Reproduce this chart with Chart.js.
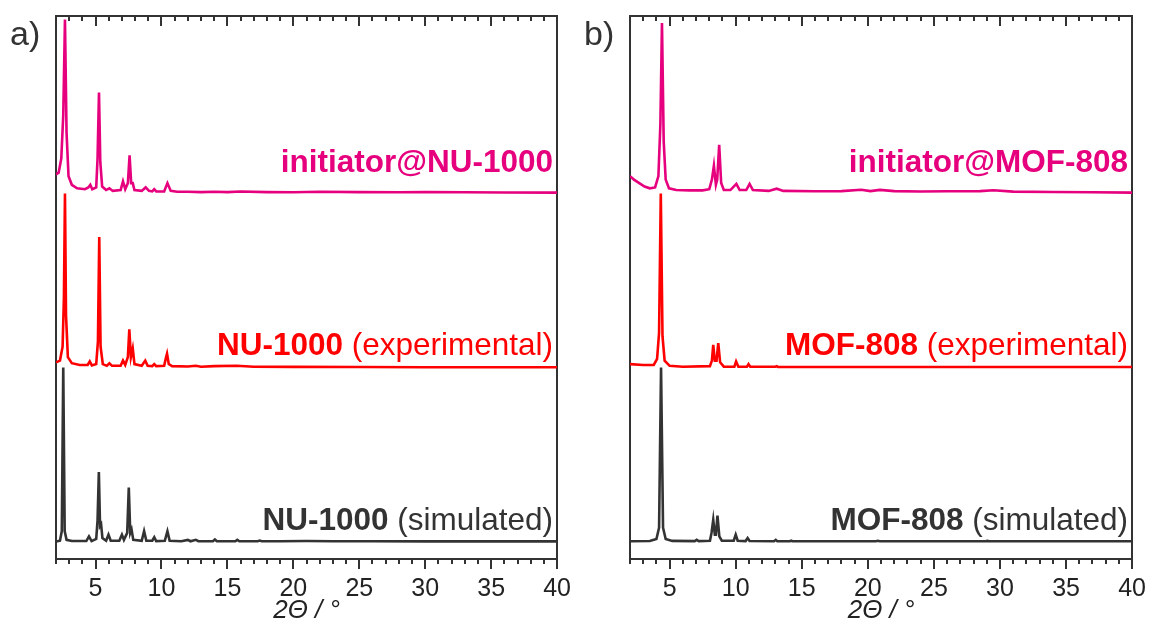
<!DOCTYPE html>
<html>
<head>
<meta charset="utf-8">
<title>PXRD NU-1000 / MOF-808</title>
<script src="https://cdn.jsdelivr.net/npm/chart.js@4.4.1/dist/chart.umd.min.js"></script>
<style>
  body { margin: 0; background: #fff; }
  #contenedor { position: relative; width: 1151px; height: 635px; background: #fff; }
  canvas { position: absolute; top: 0; }
</style>
</head>
<body>
<div id="contenedor">
  <canvas id="grafico-a" width="576" height="635" style="left:0px"></canvas>
  <canvas id="grafico-b" width="576" height="635" style="left:575px"></canvas>
</div>
<script>
// Difractogramas: pares [2theta, intensidad relativa %]
const nuSimulado = [[2.0,0],[2.3,0.5],[2.44,6],[2.55,100],[2.66,6],[2.8,1],[3.2,0.3],[4.3,0.3],[4.5,3],[4.7,0.3],[5.05,1.5],[5.15,12],[5.25,40],[5.34,9],[5.42,10],[5.52,2],[5.8,0.5],[5.98,4],[6.15,0.5],[6.8,0.5],[7.0,4],[7.15,1],[7.4,5],[7.52,31],[7.63,5],[7.73,7],[7.86,1],[8.5,0.5],[8.68,6],[8.85,0.5],[9.3,0.5],[9.45,2.5],[9.6,0.3],[10.25,0.5],[10.45,6],[10.62,0.5],[11.5,0.2],[12.0,1],[12.2,0.2],[12.6,1],[12.8,0.2],[13.9,0.2],[14.05,1.2],[14.2,0.2],[15.6,0.2],[15.75,1],[15.9,0.2],[17.3,0.2],[17.45,0.6],[17.6,0.2],[19,0.2],[21,0.3],[23,0.2],[26,0.2],[30,0.1],[35,0.1],[40,0.1]];
const nuExperimental = [[2.0,3],[2.3,4],[2.5,12],[2.6,40],[2.68,100],[2.76,30],[2.9,6],[3.2,2.5],[3.8,1.5],[4.4,1.5],[4.56,3.5],[4.72,1.2],[5.05,2],[5.18,15],[5.28,75],[5.38,12],[5.55,2],[5.85,1],[6.05,2.5],[6.25,1],[6.9,1],[7.08,4],[7.25,1.5],[7.45,6],[7.56,22],[7.68,6],[7.82,11],[7.95,2],[8.5,1],[8.77,4],[8.95,1],[9.3,0.8],[9.45,2],[9.6,0.8],[10.2,1],[10.35,6],[10.42,8],[10.55,2],[10.8,0.8],[12,0.6],[12.6,1],[13,0.5],[14,0.8],[15.7,1],[17,0.5],[20,0.4],[25,0.3],[30,0.2],[35,0.2],[40,0.2]];
const nuIniciador = [[2.0,11],[2.2,12],[2.4,20],[2.55,45],[2.68,100],[2.8,35],[2.95,10],[3.2,5],[3.6,3],[4.2,2.5],[4.45,3.5],[4.6,5],[4.75,2.5],[5.05,3.5],[5.15,20],[5.26,58],[5.36,18],[5.5,4],[5.8,2],[6.05,3],[6.3,1.5],[6.9,2],[7.08,7],[7.25,2.5],[7.45,6],[7.58,22],[7.7,6],[7.82,6],[7.95,2],[8.5,1.5],[8.8,3.5],[9.05,1.5],[9.3,1.2],[9.45,2.5],[9.6,1.2],[10.2,1.2],[10.45,6],[10.7,1.5],[11.2,1],[12,1],[13,0.8],[14,1],[15,0.8],[16,1.2],[18,0.8],[20,0.7],[22,1],[25,0.8],[28,0.7],[30,0.8],[33,0.7],[36,0.6],[40,0.5]];

const mofSimulado = [[2,0.2],[3.5,0.3],[4.0,1.5],[4.2,8],[4.35,100],[4.5,8],[4.7,1.5],[5.2,0.4],[6.9,0.3],[7.05,1],[7.2,0.3],[8.05,0.5],[8.17,5],[8.3,12.5],[8.42,4],[8.5,4],[8.62,15],[8.76,3],[8.95,0.5],[9.85,0.5],[10.0,4],[10.15,0.5],[10.75,0.3],[10.9,2],[11.05,0.3],[12.9,0.2],[13.03,1],[13.15,0.2],[14.1,0.2],[14.2,0.5],[14.3,0.2],[16,0.2],[20.6,0.2],[20.75,0.5],[20.9,0.2],[25,0.2],[28.9,0.2],[29.05,0.4],[29.2,0.2],[35,0.2],[40,0.2]];
const mofExperimental = [[2,2],[3.0,1.5],[3.8,1.5],[4.05,5],[4.2,20],[4.33,100],[4.46,18],[4.62,4],[5.0,1],[6,0.5],[8.05,0.8],[8.2,4],[8.3,13],[8.42,4],[8.55,4],[8.68,14],[8.82,3],[9.1,0.5],[9.9,0.5],[10.03,3.5],[10.2,0.5],[10.85,0.5],[10.97,2],[11.1,0.5],[13,0.5],[13.1,0.8],[13.2,0.4],[20,0.3],[30,0.3],[40,0.3]];
const mofIniciador = [[2,10],[2.3,8],[2.7,6],[3.1,4],[3.5,3],[3.9,3.5],[4.15,10],[4.3,40],[4.42,98],[4.55,30],[4.7,8],[4.95,3],[5.5,2],[6.5,1.8],[7.5,1.8],[8.0,2.5],[8.2,8],[8.35,16],[8.5,5],[8.6,8],[8.75,28],[8.9,6],[9.1,2],[9.6,2],[9.85,4],[10.05,5.5],[10.3,2],[10.8,2],[11.05,5.5],[11.3,2],[12.5,1.5],[13.1,2.8],[13.6,1.5],[16,1.3],[18,1.4],[19.5,2.2],[20.2,1.4],[20.9,2.1],[22,1.4],[24,1.2],[26,1.3],[28.5,1.4],[29.5,1.9],[31,1.1],[34,0.9],[37,0.7],[40,0.5]];

// desplazamiento vertical de cada curva (simulado, experimental, iniciador)
const desplazamientos = [0, 100, 200];

// marcas del eje 2theta
const ticksMayores = [5, 10, 15, 20, 25, 30, 35, 40];
const ticksMenores = [2,3,4,5,6,7,8,9,10,11,12,13,14,15,16,17,18,19,20,21,22,23,24,25,26,27,28,29,30,31,32,33,34,35,36,37,38,39,40];

const etiquetasA = [['NU-1000', ' (simulated)'], ['NU-1000', ' (experimental)'], ['initiator@NU-1000', '']];
const etiquetasB = [['MOF-808', ' (simulated)'], ['MOF-808', ' (experimental)'], ['initiator@MOF-808', '']];

const colores = ['#333333', '#ff0000', '#e6007e'];
const fuente = '"Liberation Sans", Arial, Helvetica, sans-serif';
const gris = '#333333';

// texto de cada curva (negrita + normal) y letra del panel
const textos = {
  id: 'textos',
  afterDatasetsDraw(chart, args, opts) {
    const ctx = chart.ctx;
    const escalaY = chart.scales.y;
    const derecha = chart.chartArea.right - 4;
    const subida = [12, 13, 22];
    ctx.save();
    ctx.textBaseline = 'alphabetic';
    opts.etiquetas.forEach((et, i) => {
      const fNegrita = 'bold 31.5px ' + fuente;
      const fNormal = '31.5px ' + fuente;
      ctx.font = fNormal;
      const w2 = ctx.measureText(et[1]).width;
      ctx.font = fNegrita;
      const w1 = ctx.measureText(et[0]).width;
      const py = escalaY.getPixelForValue(desplazamientos[i]) - subida[i];
      ctx.fillStyle = colores[i];
      ctx.fillText(et[0], derecha - w1 - w2, py);
      ctx.font = fNormal;
      ctx.fillText(et[1], derecha - w2, py);
    });
    ctx.font = '34px ' + fuente;
    ctx.fillStyle = gris;
    ctx.textBaseline = 'middle';
    ctx.fillText(opts.letra, chart.chartArea.left - 46, 36);
    ctx.restore();
  }
};

function ejeX(posicion, marcas, largo, borde, extra) {
  return Object.assign({
    type: 'linear',
    position: posicion,
    min: 2,
    max: 40,
    afterBuildTicks: s => { s.ticks = marcas.map(v => ({ value: v })); },
    afterFit: s => { s.height = 0; },
    ticks: { display: false, autoSkip: false },
    grid: { drawOnChartArea: false, color: gris, lineWidth: 2, tickLength: largo },
    border: { display: borde, color: gris, width: 2 }
  }, extra || {});
}

function crearGrafico(id, letra, series, etiquetas, padIzq, padDer) {
  const ctx = document.getElementById(id).getContext('2d');
  return new Chart(ctx, {
    type: 'line',
    data: {
      datasets: series.map((s, i) => ({
        data: s.map(p => ({ x: p[0], y: p[1] + desplazamientos[i] })),
        borderColor: colores[i],
        borderWidth: 2.6,
        pointRadius: 0,
        tension: 0,
        fill: false
      }))
    },
    options: {
      responsive: false,
      animation: false,
      devicePixelRatio: 1,
      layout: { padding: { left: padIzq, right: padDer, top: 16, bottom: 0 } },
      plugins: {
        legend: { display: false },
        tooltip: { enabled: false },
        textos: { letra: letra, etiquetas: etiquetas }
      },
      scales: {
        xMenor: ejeX('bottom', ticksMenores, 5, false, { weight: 0 }),
        x: ejeX('bottom', ticksMayores, 10, true, {
          weight: 1,
          afterFit: s => { s.height = 76; },
          ticks: {
            display: true, autoSkip: false, maxRotation: 0, padding: 5,
            color: '#222', font: { family: fuente, size: 25 }
          },
          title: {
            display: true, text: '2Θ / °', color: '#222',
            font: { family: fuente, size: 26, style: 'italic' },
            padding: { top: 0, bottom: 9 }
          }
        }),
        xArriba: ejeX('top', ticksMayores, -10, true, { weight: 1 }),
        xArribaMenor: ejeX('top', ticksMenores, -5, false, { weight: 0 }),
        y: {
          type: 'linear', position: 'left', min: -10, max: 302,
          afterFit: s => { s.width = 0; },
          ticks: { display: false },
          grid: { display: false, drawTicks: false },
          border: { display: true, color: gris, width: 2 }
        },
        yDer: {
          type: 'linear', position: 'right', min: -10, max: 302,
          afterFit: s => { s.width = 0; },
          ticks: { display: false },
          grid: { display: false, drawTicks: false },
          border: { display: true, color: gris, width: 2 }
        }
      }
    },
    plugins: [textos]
  });
}

crearGrafico('grafico-a', 'a)', [nuSimulado, nuExperimental, nuIniciador], etiquetasA, 56, 15);
crearGrafico('grafico-b', 'b)', [mofSimulado, mofExperimental, mofIniciador], etiquetasB, 55, 16);
</script>
</body>
</html>
